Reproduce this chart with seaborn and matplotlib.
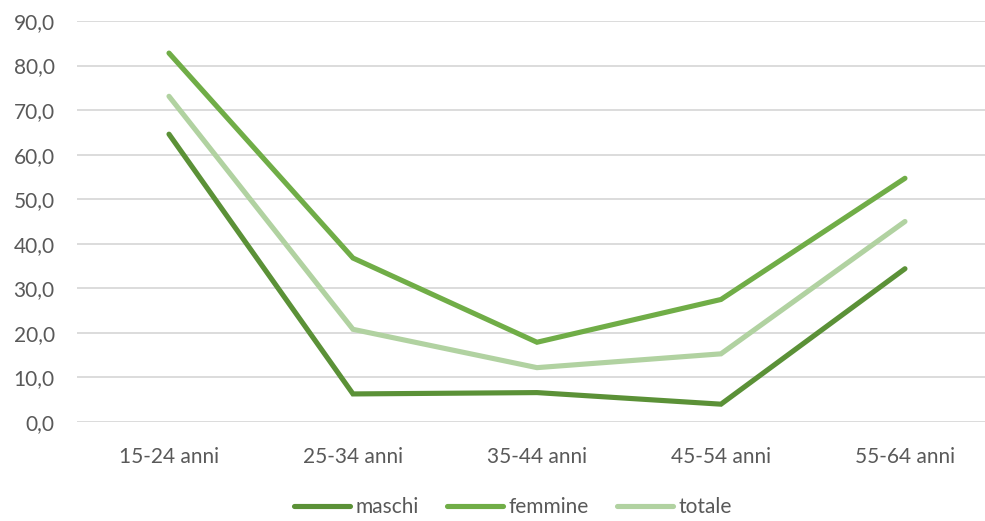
import pandas as pd
import seaborn as sns
import matplotlib.pyplot as plt

categories = ["15-24 anni", "25-34 anni", "35-44 anni", "45-54 anni", "55-64 anni"]
maschi = [64.6, 6.3, 6.6, 4.0, 34.4]
femmine = [82.8, 36.8, 17.9, 27.5, 54.7]
totale = [73.1, 20.8, 12.2, 15.3, 45.0]

series = {"maschi": maschi, "femmine": femmine, "totale": totale}
colors = {"maschi": "#5b9137", "femmine": "#70ad47", "totale": "#b1d2a1"}

df = pd.DataFrame(
    [(k, i, v) for k, vals in series.items() for i, v in enumerate(vals)],
    columns=["serie", "pos", "valore"],
)

sns.set_style("white")
plt.rcParams["font.family"] = ["Lato", "DejaVu Sans"]
text_col = "#595959"
fs = 15

fig = plt.figure(figsize=(9.85, 5.21), dpi=100)
ax = fig.add_axes([77 / 985, 1 - 422 / 521, 1 - 77 / 985, (422 - 21) / 521])

sns.lineplot(data=df, x="pos", y="valore", hue="serie", palette=colors,
             linewidth=3.7, ax=ax, legend=False, sort=False)
for line in ax.get_lines():
    line.set_solid_capstyle("round")
    line.set_solid_joinstyle("miter")

ax.set_ylim(0, 90)
ax.set_yticks(range(0, 91, 10))
ax.set_yticklabels([f"{t:.1f}".replace(".", ",") for t in range(0, 91, 10)])
ax.set_xlim(-0.5, 4.435)
ax.set_xticks(range(len(categories)))
ax.set_xticklabels(categories)
ax.grid(axis="y", color="#d9d9d9", linewidth=1.3)
ax.set_axisbelow(True)
for s in ax.spines.values():
    s.set_visible(False)
ax.tick_params(axis="y", length=0, pad=16, labelsize=fs, labelcolor=text_col)
ax.tick_params(axis="x", length=0, pad=18, labelsize=fs, labelcolor=text_col)
ax.set_xlabel("")
ax.set_ylabel("")

handles = [plt.Line2D([], [], color=colors[k], linewidth=3.7, solid_capstyle="round") for k in series]
fig.legend(handles, list(series), loc="center", bbox_to_anchor=(513 / 985, 1 - 507 / 521),
           ncol=3, frameon=False, fontsize=fs, labelcolor=text_col,
           handlelength=2.7, handletextpad=0.25, columnspacing=1.35)

fig.savefig("out.png", dpi=100)
